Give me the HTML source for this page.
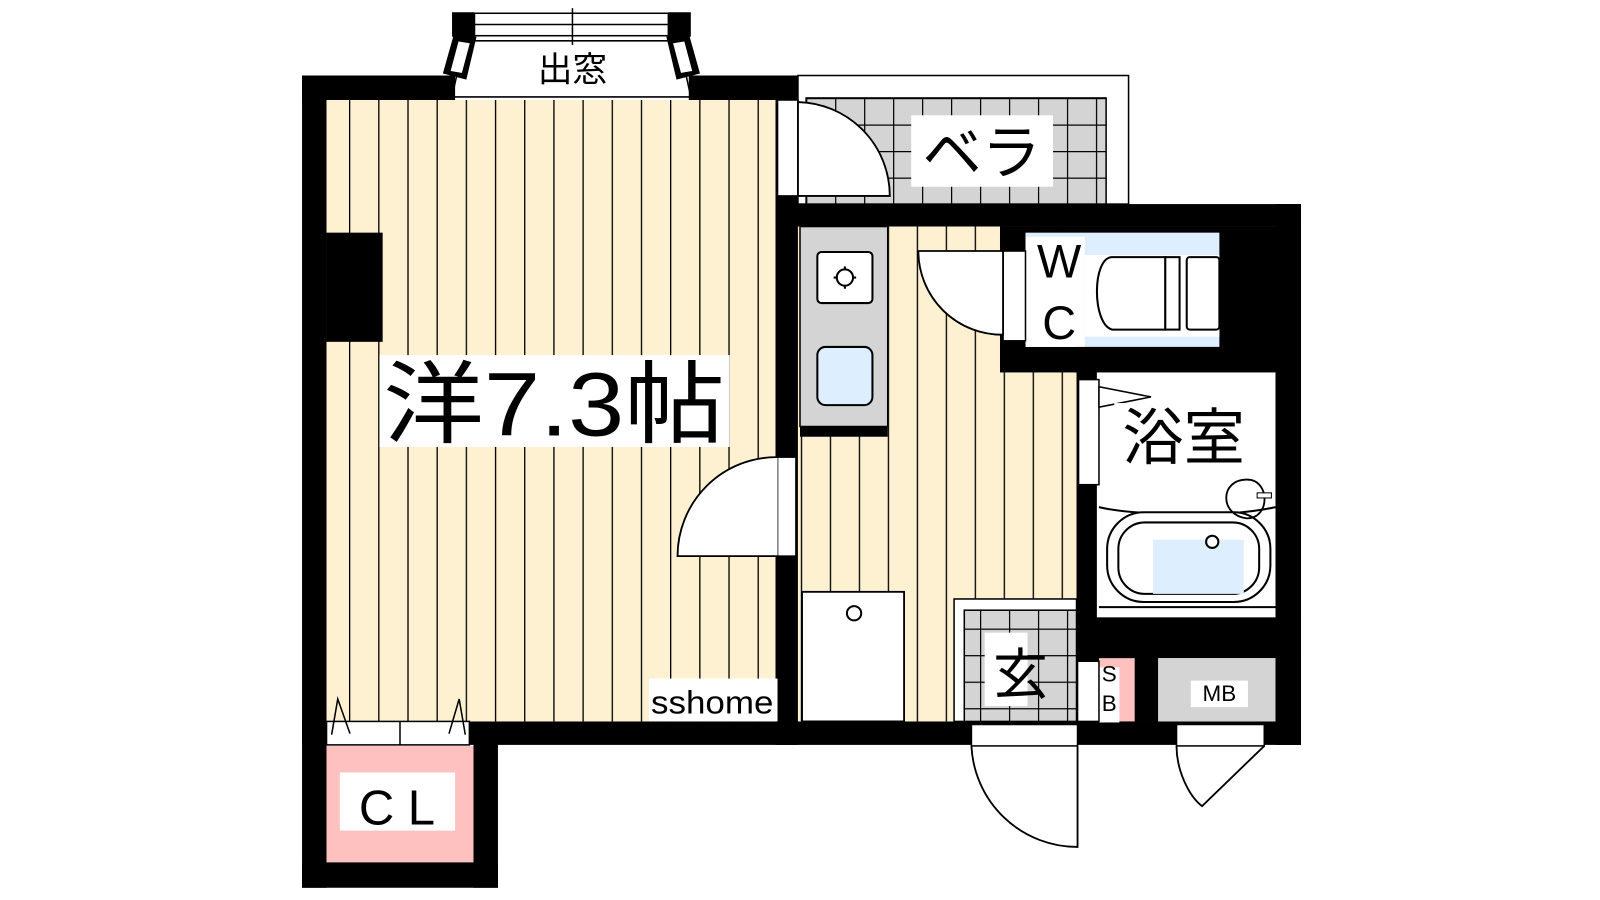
<!DOCTYPE html>
<html><head><meta charset="utf-8"><style>
html,body{margin:0;padding:0;background:#fff;width:1600px;height:900px;overflow:hidden}
text{font-family:"Liberation Sans","Noto Sans CJK JP",sans-serif}
</style></head><body>
<svg width="1600" height="900" viewBox="0 0 1600 900" xmlns="http://www.w3.org/2000/svg">
<defs>
<pattern id="fl" x="342" y="0" width="28.6" height="10" patternUnits="userSpaceOnUse">
<rect width="28.6" height="10" fill="#fef1d2"/><line x1="0.5" y1="0" x2="0.5" y2="10" stroke="#000" stroke-width="1.6"/></pattern>
<pattern id="fl2" x="870" y="0" width="28.4" height="10" patternUnits="userSpaceOnUse">
<rect width="28.4" height="10" fill="#fef1d2"/><line x1="0.5" y1="0" x2="0.5" y2="10" stroke="#000" stroke-width="1.6"/></pattern>
<pattern id="tl" x="790" y="96" width="28.4" height="26" patternUnits="userSpaceOnUse">
<rect width="28.4" height="26" fill="#d4d4d4"/><path d="M0.5 0V26M0 0.5H28.4" stroke="#000" stroke-width="1.4"/></pattern>
</defs>
<g transform="scale(1.0204)">
<!-- bay window -->
<polygon points="455,35 665,35 690,95 430,95" fill="#fff"/>
<polygon points="443,95 455,40 665,40 677,95" fill="#fff" stroke="#000" stroke-width="1.5"/>
<rect x="443" y="12" width="22" height="24" fill="#000"/>
<rect x="655" y="12" width="22" height="24" fill="#000"/>
<rect x="465" y="13" width="190" height="22" fill="#fff" stroke="#000" stroke-width="1.5"/>
<line x1="465" y1="24" x2="655" y2="24" stroke="#000" stroke-width="1.5"/>
<line x1="561" y1="8" x2="561" y2="44" stroke="#000" stroke-width="1.5"/>
<polygon points="445,33 467,36 457,78 434,72" fill="#000"/>
<polygon points="449,40 461,42 453,72 441,70" fill="#fff" stroke="#000"/>
<polygon points="653,36 675,33 686,72 663,78" fill="#000"/>
<polygon points="659,42 671,40 679,70 667,72" fill="#fff" stroke="#000"/>
<text x="561" y="80" font-size="34" text-anchor="middle">出窓</text>
<!-- main walls -->
<rect x="296" y="74" width="150" height="24" fill="#000"/>
<rect x="675" y="74" width="107" height="24" fill="#000"/>
<rect x="296" y="74" width="24" height="796" fill="#000"/>
<rect x="296" y="707" width="979" height="23" fill="#000"/>
<rect x="464" y="707" width="24" height="163" fill="#000"/>
<rect x="296" y="845" width="192" height="25" fill="#000"/>
<!-- main floor -->
<rect x="320" y="98" width="440" height="609" fill="url(#fl)"/>
<rect x="320" y="228" width="55" height="107" fill="#000"/>
<rect x="760" y="74" width="22" height="656" fill="#000"/>
<!-- door from room -->
<rect x="762" y="448" width="18" height="97" fill="#fff" stroke="#000" stroke-width="1.5"/>
<path d="M762 448 A97 97 0 0 0 664 545 L762 545" fill="#fff" stroke="#000" stroke-width="1.8"/>
<!-- balcony -->
<rect x="782" y="74" width="324" height="126" fill="#fff" stroke="#000" stroke-width="1.5"/>
<rect x="790" y="96" width="294" height="104" fill="url(#tl)" stroke="#000" stroke-width="1.5"/>
<rect x="762" y="98" width="20" height="94" fill="#fff" stroke="#000" stroke-width="1.5"/>
<path d="M782 100 A92 92 0 0 1 872 192 L782 192 Z" fill="#fff" stroke="#000" stroke-width="1.8"/>
<rect x="893" y="113" width="139" height="70" fill="#fff"/>
<text x="962" y="170" font-size="58" text-anchor="middle">ベラ</text>
<!-- right block -->
<rect x="760" y="200" width="515" height="22" fill="#000"/>
<rect x="1250" y="200" width="25" height="530" fill="#000"/>
<rect x="782" y="222" width="273" height="485" fill="url(#fl2)"/>
<!-- kitchen -->
<rect x="784" y="222" width="86" height="196" fill="#d4d4d4" stroke="#000" stroke-width="1.5"/>
<rect x="784" y="418" width="86" height="10" fill="#000"/>
<rect x="801" y="247" width="54" height="50" rx="4" fill="#fff" stroke="#000" stroke-width="2"/>
<circle cx="828" cy="272" r="8" fill="none" stroke="#000" stroke-width="2"/>
<path d="M828 261V265M828 279V283M817 272H821M835 272H839" stroke="#000" stroke-width="2"/>
<rect x="801" y="340" width="54" height="57" rx="8" fill="#ddeeff" stroke="#000" stroke-width="2"/>
<!-- WC -->
<rect x="980" y="222" width="270" height="143" fill="#000"/>
<rect x="1005" y="228" width="190" height="112" fill="#ddeeff"/>
<rect x="1063" y="250" width="132" height="80" fill="#fff"/>
<rect x="1005" y="232" width="58" height="108" fill="#fff"/>
<path d="M1142 252 H1090 C1070 252 1070 318 1090 323 H1142 Z" fill="#fff" stroke="#000" stroke-width="2"/>
<rect x="1142" y="252" width="14" height="71" fill="#fff" stroke="#000" stroke-width="2"/>
<rect x="1163" y="252" width="32" height="71" rx="3" fill="#fff" stroke="#000" stroke-width="2"/>
<text x="1038" y="272" font-size="46" text-anchor="middle">W</text>
<text x="1038" y="332" font-size="46" text-anchor="middle">C</text>
<rect x="983" y="246" width="22" height="88" fill="#fff" stroke="#000" stroke-width="1.5"/>
<path d="M983 246 L900 246 A82 82 0 0 0 983 328 Z" fill="#fff" stroke="#000" stroke-width="1.8"/>
<!-- bath -->
<rect x="1055" y="340" width="195" height="25" fill="#000"/>
<rect x="1055" y="365" width="20" height="265" fill="#000"/>
<rect x="1075" y="365" width="175" height="240" fill="#fff"/>
<rect x="1057" y="372" width="20" height="103" fill="#fff" stroke="#000" stroke-width="1.5"/>
<polygon points="1077,379 1128,389 1077,399" fill="#fff" stroke="#000" stroke-width="1.5"/>
<path d="M1077 497 C1110 505 1200 508 1250 497" fill="none" stroke="#000" stroke-width="2"/>
<line x1="1077" y1="595" x2="1250" y2="595" stroke="#000" stroke-width="2"/>
<rect x="1085" y="502" width="160" height="88" rx="36" fill="#fff" stroke="#000" stroke-width="2"/>
<rect x="1096" y="512" width="138" height="70" rx="26" fill="#fff" stroke="#000" stroke-width="2"/>
<rect x="1130" y="529" width="89" height="53" fill="#ddeeff"/>
<circle cx="1188" cy="531" r="6" fill="#fff" stroke="#000" stroke-width="2"/>
<path d="M1222 470 C1195 470 1195 505 1222 508 C1245 508 1245 470 1222 470" fill="none" stroke="#000" stroke-width="1.8"/>
<rect x="1232" y="483" width="14" height="5" fill="#fff" stroke="#000"/>
<rect x="1092" y="395" width="135" height="65" fill="#fff"/>
<text x="1160" y="450" font-size="60" text-anchor="middle">浴室</text>
<!-- bottom right -->
<rect x="1055" y="605" width="220" height="40" fill="#000"/>
<rect x="1055" y="630" width="80" height="77" fill="#000"/>
<rect x="1112" y="630" width="23" height="77" fill="#000"/>
<rect x="1135" y="645" width="115" height="62" fill="#d4d4d4"/>
<rect x="1077" y="645" width="35" height="62" fill="#ffc0c0"/>
<rect x="1077" y="654" width="20" height="54" fill="#fff"/>
<text x="1087" y="668" font-size="22" text-anchor="middle">S</text>
<text x="1087" y="697" font-size="22" text-anchor="middle">B</text>
<rect x="1056" y="648" width="21" height="59" fill="#fff" stroke="#000" stroke-width="1.5"/>
<path d="M1056 648 L1037 672 L1056 707" fill="none" stroke="#000" stroke-width="1.5"/>
<rect x="1167" y="667" width="56" height="26" fill="#fff"/>
<text x="1195" y="687" font-size="22" text-anchor="middle">MB</text>
<!-- genkan -->
<rect x="935" y="587" width="120" height="120" fill="#fff" stroke="#000" stroke-width="1.5"/>
<rect x="945" y="598" width="110" height="109" fill="url(#tl)" stroke="#000" stroke-width="1.5"/>
<rect x="965" y="620" width="42" height="72" fill="#fff"/>
<text x="1000" y="680" font-size="54" text-anchor="middle">玄</text>
<!-- fridge -->
<rect x="786" y="580" width="100" height="127" fill="#fff" stroke="#000" stroke-width="1.8"/>
<circle cx="837" cy="601" r="7" fill="#fff" stroke="#000" stroke-width="2"/>
<!-- sshome -->
<rect x="636" y="665" width="126" height="42" fill="#fff"/>
<text x="698" y="699" font-size="32" text-anchor="middle" textLength="120" lengthAdjust="spacingAndGlyphs">sshome</text>
<!-- big label -->
<rect x="372" y="348" width="343" height="90" fill="#fff"/>
<text x="543" y="427" font-size="88" text-anchor="middle" textLength="335" lengthAdjust="spacingAndGlyphs">洋7.3帖</text>
<!-- CL -->
<rect x="320" y="731" width="144" height="114" fill="#ffc0c0"/>
<rect x="320" y="707" width="140" height="23" fill="#fff" stroke="#000" stroke-width="1.5"/>
<line x1="392" y1="707" x2="392" y2="730" stroke="#000" stroke-width="1.5"/>
<path d="M325 720 L331 685 L343 719 M440 719 L450 685 L456 720" fill="none" stroke="#000" stroke-width="1.5"/>
<rect x="333" y="757" width="113" height="57" fill="#fff"/>
<text x="389" y="808" font-size="48" text-anchor="middle">C L</text>
<!-- entrance doors -->
<rect x="952" y="710" width="104" height="21" fill="#fff" stroke="#000" stroke-width="1.5"/>
<path d="M1056 731 V830 A104 104 0 0 1 952 731" fill="none" stroke="#000" stroke-width="1.8"/>
<rect x="1153" y="710" width="86" height="21" fill="#fff" stroke="#000" stroke-width="1.5"/>
<path d="M1153 731 C1153 755 1165 780 1178 790 L1239 731" fill="none" stroke="#000" stroke-width="1.8"/>
</g>
</svg>
</body></html>
